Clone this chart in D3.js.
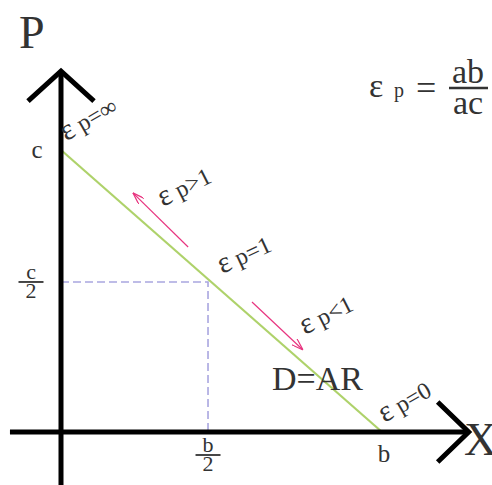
<!DOCTYPE html>
<html>
<head>
<meta charset="utf-8"/>
<script src="https://d3js.org/d3.v7.min.js"></script>
<style>
    body { margin: 0; background: #fff; }
    text { font-family: "Liberation Serif", "DejaVu Serif", serif; fill: #333; }
</style>
</head>
<body>
<svg id="chart" width="492" height="485"></svg>
<script>
    // demanda lineal: de c (P max) a b (X max), en unidades relativas
    const demandLine = [{x: 0, p: 1}, {x: 1, p: 0}];
    // punto de elasticidad unitaria
    const unitPoint = {x: 0.458, p: 0.532};
    // flechas rosadas: [inicio, punta]
    const arrows = [
        [{x: 0.396, p: 0.656}, {x: 0.224, p: 0.848}],
        [{x: 0.595, p: 0.461}, {x: 0.754, p: 0.291}]
    ];
    // etiquetas de elasticidad a lo largo de la recta
    const elastLabels = [
        {x: 0.016, p: 1.03, sub: "p=∞", rot: -30},
        {x: 0.318, p: 0.798, sub: "p>1", rot: -27},
        {x: 0.502, p: 0.56, sub: "p=1", rot: -25},
        {x: 0.760, p: 0.344, sub: "p<1", rot: -27},
        {x: 1.008, p: 0.032, sub: "p=0", rot: -30}
    ];
    // límites de los ejes (más allá del origen y del dominio)
    const xAxisExtent = [-0.159, 1.27];
    const pAxisExtent = [-0.188, 1.28];

    const svg = d3.select("#chart");

    const x = d3.scaleLinear().domain([0, 1]).range([61, 382]);
    const y = d3.scaleLinear().domain([0, 1]).range([432, 150]);

    // líneas punteadas al punto medio
    svg.append("path")
        .attr("d", d3.line()([[x(0), y(unitPoint.p)], [x(unitPoint.x), y(unitPoint.p)], [x(unitPoint.x), y(0)]]))
        .attr("fill", "none")
        .attr("stroke", "#a9a6e0")
        .attr("stroke-width", 1.6)
        .attr("stroke-dasharray", "8,4");

    // recta de demanda
    svg.append("path")
        .datum(demandLine)
        .attr("d", d3.line().x(d => x(d.x)).y(d => y(d.p)))
        .attr("stroke", "#aed26a")
        .attr("stroke-width", 2.2)
        .attr("fill", "none");

    // ejes
    svg.append("line")
        .attr("x1", x(xAxisExtent[0])).attr("x2", x(xAxisExtent[1]))
        .attr("y1", y(0)).attr("y2", y(0))
        .attr("stroke", "#000").attr("stroke-width", 5);
    svg.append("line")
        .attr("x1", x(0)).attr("x2", x(0))
        .attr("y1", y(pAxisExtent[0])).attr("y2", y(pAxisExtent[1]))
        .attr("stroke", "#000").attr("stroke-width", 5);

    // puntas de flecha de los ejes
    const tipX = x(xAxisExtent[1]), tipY = y(pAxisExtent[1]);
    svg.append("path")
        .attr("d", d3.line()([[tipX - 31, y(0) - 30], [tipX, y(0)], [tipX - 31, y(0) + 30]]))
        .attr("fill", "none").attr("stroke", "#000").attr("stroke-width", 5)
        .attr("stroke-linejoin", "miter");
    svg.append("path")
        .attr("d", d3.line()([[x(0) - 33, tipY + 30], [x(0), tipY], [x(0) + 33, tipY + 30]]))
        .attr("fill", "none").attr("stroke", "#000").attr("stroke-width", 5)
        .attr("stroke-linejoin", "miter");

    // flechas rosadas
    svg.append("defs").append("marker")
        .attr("id", "head")
        .attr("viewBox", "0 0 12 8")
        .attr("refX", 12).attr("refY", 4)
        .attr("markerWidth", 12).attr("markerHeight", 8)
        .attr("markerUnits", "userSpaceOnUse")
        .attr("orient", "auto")
        .append("path")
        .attr("d", "M0,0 L12,4 L0,8")
        .attr("fill", "none")
        .attr("stroke", "#e8347f")
        .attr("stroke-width", 1.2);

    svg.selectAll(".pink")
        .data(arrows).enter()
        .append("line")
        .attr("class", "pink")
        .attr("x1", d => x(d[0].x)).attr("y1", d => y(d[0].p))
        .attr("x2", d => x(d[1].x)).attr("y2", d => y(d[1].p))
        .attr("stroke", "#e8347f")
        .attr("stroke-width", 1.2)
        .attr("marker-end", "url(#head)");

    // etiquetas de elasticidad
    const lbl = svg.selectAll(".elast")
        .data(elastLabels).enter()
        .append("text")
        .attr("class", "elast")
        .attr("transform", d => `translate(${x(d.x)},${y(d.p)}) rotate(${d.rot})`)
        .style("font-size", "24px");
    lbl.append("tspan").style("font-size", "30px").text("ε");
    lbl.append("tspan").text(d => " " + d.sub);

    // títulos de ejes
    svg.append("text").attr("x", 19).attr("y", 48).style("font-size", "46px").text("P");
    svg.append("text").attr("x", 464).attr("y", 455).style("font-size", "46px").text("X");

    // c, b
    svg.append("text").attr("x", 37).attr("y", 158).attr("text-anchor", "middle")
        .style("font-size", "25px").text("c");
    svg.append("text").attr("x", x(1) + 2).attr("y", 462).attr("text-anchor", "middle")
        .style("font-size", "25px").text("b");

    // fracciones c/2 y b/2
    function fraction(cx, cy, top, bottom, size, barW) {
        const g = svg.append("g").attr("transform", `translate(${cx},${cy})`);
        g.append("text").attr("y", -3).attr("text-anchor", "middle").style("font-size", size + "px").text(top);
        g.append("line").attr("x1", -barW / 2).attr("x2", barW / 2)
            .attr("stroke", "#333").attr("stroke-width", 1.8);
        g.append("text").attr("y", size * 0.72).attr("text-anchor", "middle").style("font-size", size + "px").text(bottom);
    }
    fraction(31, y(unitPoint.p), "c", "2", 22, 25);
    fraction(x(unitPoint.x), 455, "b", "2", 22, 25);

    // D=AR
    svg.append("text").attr("x", 272).attr("y", 390).style("font-size", "34px").text("D=AR");

    // fórmula ε p = ab/ac
    svg.append("text").attr("x", 369).attr("y", 97).style("font-size", "34px").text("ε");
    svg.append("text").attr("x", 394).attr("y", 97).style("font-size", "20px").text("p");
    svg.append("text").attr("x", 416).attr("y", 100).style("font-size", "36px").text("=");
    svg.append("line").attr("x1", 449).attr("x2", 488).attr("y1", 88).attr("y2", 88)
        .attr("stroke", "#333").attr("stroke-width", 2.5);
    svg.append("text").attr("x", 468).attr("y", 83).attr("text-anchor", "middle").style("font-size", "34px").text("ab");
    svg.append("text").attr("x", 468).attr("y", 114).attr("text-anchor", "middle").style("font-size", "34px").text("ac");
</script>
</body>
</html>
